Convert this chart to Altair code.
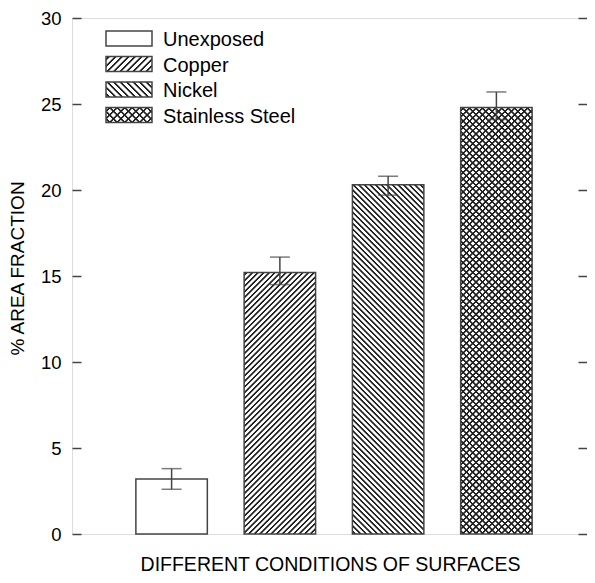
import altair as alt
import pandas as pd

categories = ["Unexposed", "Copper", "Nickel", "Stainless Steel"]
means = [3.2, 15.2, 20.3, 24.8]
err_lo = [2.6, 14.5, 19.7, 24.1]
err_hi = [3.8, 16.1, 20.8, 25.7]
patterns = ["none", "fwd", "back", "cross"]
y_ticks = [0, 5, 10, 15, 20, 25, 30]
y_domain = [0, 30]

W, H = 524, 516
P_IN, P_OUT = 0.34, 0.59
FONT = "Liberation Sans"
INK = "#222222"
FRAME = "#444444"

step = W / (len(categories) - P_IN + 2 * P_OUT)
BAR_W = step * (1 - P_IN)

df = pd.DataFrame({"cat": categories, "mean": means, "lo": err_lo, "hi": err_hi})


def stripes(w, h, spacing, a, b, ink, paper, direction):
    L = w + h
    k = L / (w * w + h * h)
    if direction == "fwd":
        x1, y1, x2, y2 = 0, 0, k * w, k * h
    else:
        x1, y1, x2, y2 = 0, 1, k * w, 1 - k * h
    stops = [{"offset": 0, "color": paper}]
    last = 0.0
    c = spacing / 2
    while c - a - b < L:
        for p, col in [(c - a - b, paper), (c - a, ink), (c + a, ink), (c + a + b, paper)]:
            t = p / L
            if last < t < 1:
                stops.append({"offset": round(t, 5), "color": col})
                last = t
        c += spacing
    stops.append({"offset": 1, "color": paper})
    return {"gradient": "linear", "x1": x1, "y1": y1, "x2": x2, "y2": y2, "stops": stops}


def fills(pattern, w, h, sp):
    if pattern == "none":
        return ["white"]
    if pattern == "fwd":
        return [stripes(w, h, sp, 0.75, 0.8, INK, "white", "fwd")]
    if pattern == "back":
        return [stripes(w, h, sp, 0.75, 0.8, INK, "white", "back")]
    return [
        stripes(w, h, sp * 1.15, 0.75, 0.75, INK, "white", "fwd"),
        stripes(w, h, sp * 1.15, 0.75, 0.75, INK, "rgba(0,0,0,0)", "back"),
    ]


x_enc = alt.X(
    "cat:N",
    sort=categories,
    scale=alt.Scale(domain=categories, paddingInner=P_IN, paddingOuter=P_OUT),
    axis=alt.Axis(
        orient="bottom", labels=False, ticks=False, domain=False,
        title="DIFFERENT CONDITIONS OF SURFACES",
        titleFont=FONT, titleFontSize=19.5, titleFontWeight="normal", titleColor="black",
        titleX=258, titleY=36, titleBaseline="alphabetic",
    ),
)
y_scale = alt.Scale(domain=y_domain, nice=False)

left_axis = alt.Axis(
    orient="left", values=y_ticks, offset=-9, tickSize=9, tickWidth=1.5, tickColor=FRAME,
    domain=False, grid=False, labelPadding=11, labelFont=FONT, labelFontSize=18.5,
    labelColor="black", title="% AREA FRACTION", titleFont=FONT, titleFontSize=19,
    titleFontWeight="normal", titleColor="black", titleX=-58, titleY=250,
    titleBaseline="alphabetic",
)
right_axis = alt.Axis(
    orient="right", values=y_ticks, offset=-18, tickSize=9, tickWidth=1.5, tickColor=FRAME,
    domain=False, grid=False, labels=False, title=None,
)

layers = []
for i, (cat, pat) in enumerate(zip(categories, patterns)):
    h_px = means[i] / y_domain[1] * H
    fl = fills(pat, BAR_W, h_px, 5.6)
    for j, f in enumerate(fl):
        last = j == len(fl) - 1
        base = alt.Chart(df).transform_filter(alt.datum.cat == cat)
        mk = (base.mark_bar(fill=f, stroke=FRAME, strokeWidth=1.5) if last
              else base.mark_bar(fill=f, strokeWidth=0))
        first = i == 0 and j == 0
        layers.append(mk.encode(
            x=x_enc if first else alt.X("cat:N", sort=categories, axis=None),
            y=alt.Y("mean:Q", scale=y_scale, axis=left_axis if first else None),
        ))

err_rule = alt.Chart(df).mark_rule(color=FRAME, strokeWidth=1.5).encode(
    x=alt.X("cat:N", sort=categories, axis=None),
    y=alt.Y("lo:Q", scale=y_scale, axis=right_axis),
    y2="hi:Q",
)
cap_lo = alt.Chart(df).mark_tick(color=FRAME, thickness=1.5, size=20).encode(
    x=alt.X("cat:N", sort=categories, axis=None),
    y=alt.Y("lo:Q", scale=y_scale, axis=None),
)
cap_hi = alt.Chart(df).mark_tick(color=FRAME, thickness=1.5, size=20).encode(
    x=alt.X("cat:N", sort=categories, axis=None),
    y=alt.Y("hi:Q", scale=y_scale, axis=None),
)
layers += [err_rule, cap_lo, cap_hi]

# legend
SW_X, SW_W, SW_H = 34, 46, 15
ROW0, ROW_STEP = 13, 25.5
TXT_X = 91
for i, (cat, pat) in enumerate(zip(categories, patterns)):
    top = ROW0 + ROW_STEP * i
    fl = fills(pat, SW_W, SW_H, 6.5)
    ldf = pd.DataFrame({"cat": [cat]})
    for j, f in enumerate(fl):
        last = j == len(fl) - 1
        mk = (alt.Chart(ldf).mark_rect(fill=f, stroke=FRAME, strokeWidth=1.5) if last
              else alt.Chart(ldf).mark_rect(fill=f, strokeWidth=0))
        layers.append(mk.encode(
            x=alt.value(SW_X), x2=alt.value(SW_X + SW_W),
            y=alt.value(top), y2=alt.value(top + SW_H),
        ))
    layers.append(
        alt.Chart(ldf).mark_text(align="left", baseline="alphabetic", font=FONT,
                                 fontSize=20, color="black")
        .encode(x=alt.value(TXT_X), y=alt.value(top + 15), text="cat:N")
    )

chart = (
    alt.layer(*layers)
    .resolve_axis(x="independent", y="independent")
    .properties(width=W, height=H, autosize=alt.AutoSizeParams(type="none"),
                padding={"left": 64, "top": 10, "right": -9, "bottom": 41})
    .configure_view(stroke=FRAME, strokeWidth=1.5)
    .configure(background="white")
)

chart.save("out.html", embed_options={"renderer": "svg", "actions": False})
